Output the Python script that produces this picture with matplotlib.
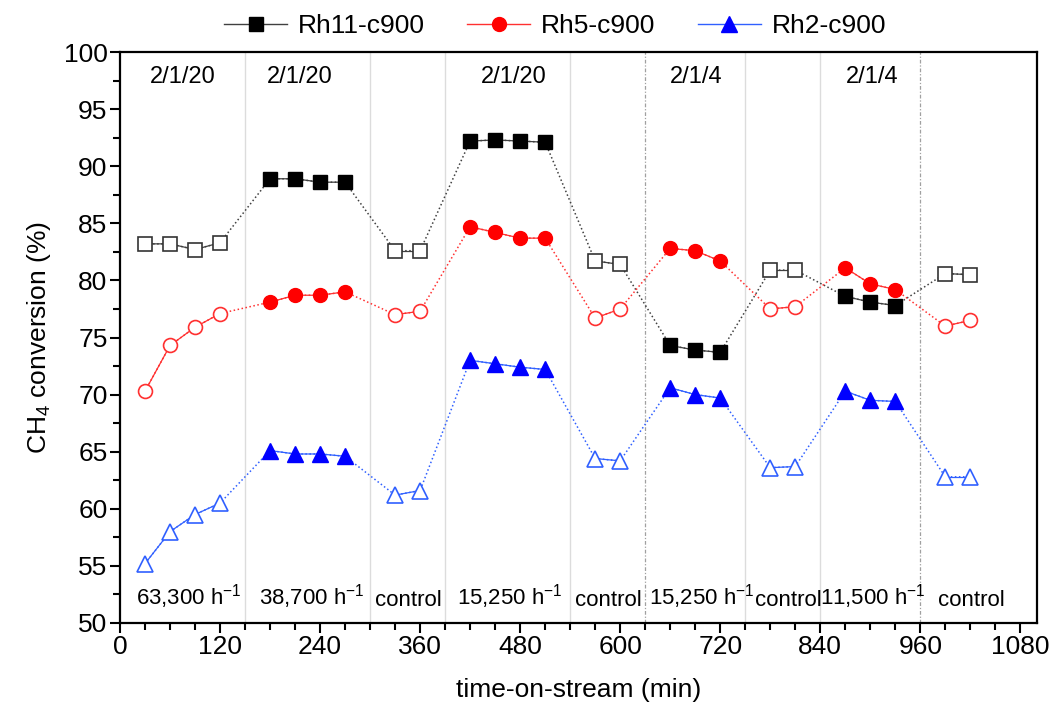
import matplotlib
matplotlib.use("Agg")
import matplotlib.pyplot as plt
from matplotlib.lines import Line2D

plt.rcParams['font.family'] = ['Liberation Sans', 'DejaVu Sans']
plt.rcParams['mathtext.fontset'] = 'custom'
plt.rcParams['mathtext.rm'] = 'Liberation Sans'
plt.rcParams['mathtext.it'] = 'Liberation Sans:italic'

# ---- data ----
time_min = [30, 60, 90, 120, 180, 210, 240, 270, 330, 360, 420, 450, 480, 510,
            570, 600, 660, 690, 720, 780, 810, 870, 900, 930, 990, 1020]
rh11 = [83.2, 83.2, 82.7, 83.3, 88.9, 88.9, 88.6, 88.6, 82.6, 82.6,
        92.2, 92.3, 92.2, 92.1, 81.7, 81.4, 74.3, 73.9, 73.7, 80.9, 80.9,
        78.6, 78.1, 77.8, 80.6, 80.5]
rh5 = [70.3, 74.3, 75.9, 77.1, 78.1, 78.7, 78.7, 79.0, 77.0, 77.3,
       84.7, 84.2, 83.7, 83.7, 76.7, 77.5, 82.8, 82.6, 81.7, 77.5, 77.7,
       81.1, 79.7, 79.2, 76.0, 76.5]
rh2 = [55.2, 58.0, 59.5, 60.5, 65.1, 64.8, 64.8, 64.6, 61.2, 61.6,
       73.0, 72.7, 72.4, 72.2, 64.4, 64.2, 70.6, 70.0, 69.7, 63.6, 63.7,
       70.3, 69.5, 69.4, 62.8, 62.8]
# group sizes and whether group is a control (open markers)
group_sizes = [4, 4, 2, 4, 2, 3, 2, 3, 2]
group_control = [True, False, True, False, True, False, True, False, True]

series_names = ['Rh11-c900', 'Rh5-c900', 'Rh2-c900']
section_bounds = [150, 300, 390, 540, 630, 750, 840, 960]
dashed_bounds = [630, 960]
top_labels = ['2/1/20', '2/1/20', '2/1/20', '2/1/4', '2/1/4']
top_label_x = [75, 216, 472, 691, 902]
bottom_labels = ['63,300 h$^{-1}$', '38,700 h$^{-1}$', 'control', '15,250 h$^{-1}$',
                 'control', '15,250 h$^{-1}$', 'control', '11,500 h$^{-1}$', 'control']
bottom_label_x = [82, 230, 346, 468, 586, 698, 802, 903, 1021]

styles = [
    dict(color='black', line='#404040', open_edge='#333333', marker='s', ms=9.5),
    dict(color='#ff0000', line='#ff3030', open_edge='#ff3030', marker='o', ms=10),
    dict(color='#0000ff', line='#3060ff', open_edge='#3060ff', marker='^', ms=11),
]

fig = plt.figure(figsize=(10.54, 7.11), dpi=100)
ax = fig.add_axes([120/1054, 1-623/711, (1037-120)/1054, (623-52)/711])

for xb in section_bounds:
    if xb in dashed_bounds:
        ax.axvline(xb, color='#a0a0a0', lw=0.9, ls=(0, (3, 1.5, 1, 1.5)), zorder=0)
    else:
        ax.axvline(xb, color='#dcdcdc', lw=1.0, zorder=0)

handles = []
for vals, st, name in zip([rh11, rh5, rh2], styles, series_names):
    ax.plot(time_min, vals, ls=':', lw=1.1, color=st['line'], zorder=2)
    start = 0
    for n, ctrl in zip(group_sizes, group_control):
        xs = time_min[start:start+n]
        ys = vals[start:start+n]
        if ctrl:
            ax.plot(xs, ys, ls='-', lw=0.9, color=st['line'], marker=st['marker'],
                    ms=st['ms'], mfc='white', mec=st['open_edge'], mew=1.2, zorder=3)
        else:
            ax.plot(xs, ys, ls='-', lw=0.9, color=st['line'], marker=st['marker'],
                    ms=st['ms'], mfc=st['color'], mec=st['color'], mew=1.0, zorder=4)
        start += n
    handles.append(Line2D([], [], ls='-', lw=1.0, color=st['line'], marker=st['marker'],
                          ms=st['ms'], mfc=st['color'], mec=st['color']))

for lab, x in zip(top_labels, top_label_x):
    ax.text(x, 97.8, lab, ha='center', va='center', fontsize=17)
for lab, x in zip(bottom_labels, bottom_label_x):
    if 'control' in lab:
        ax.text(x, 51.95, lab, ha='center', va='center', fontsize=16)
    else:
        ax.text(x, 52.3, lab, ha='center', va='center', fontsize=16)

ax.set_xlim(0, 1100)
ax.set_ylim(50, 100)
ax.set_xticks(range(0, 1081, 120))
ax.set_xticks(range(0, 1081, 30), minor=True)
ax.set_yticks(range(50, 101, 5))
ax.set_yticks([50 + 2.5*i for i in range(21)], minor=True)
ax.tick_params(axis='both', which='major', direction='out', length=7, width=1.5,
               labelsize=19, top=False, right=False, pad=2)
ax.tick_params(axis='both', which='minor', direction='out', length=5, width=1.5,
               top=False, right=False)
for sp in ax.spines.values():
    sp.set_linewidth(1.6)

ax.set_xlabel('time-on-stream (min)', fontsize=19, labelpad=13)
ax.set_ylabel('CH$_4$ conversion (%)', fontsize=19, labelpad=8)

fig.legend(handles, series_names, loc='center', bbox_to_anchor=(555/1054, 1-26/711),
           ncol=3, frameon=False, fontsize=19, handlelength=2.4, columnspacing=1.6,
           handletextpad=0.4)

fig.savefig('out.png', dpi=100)
